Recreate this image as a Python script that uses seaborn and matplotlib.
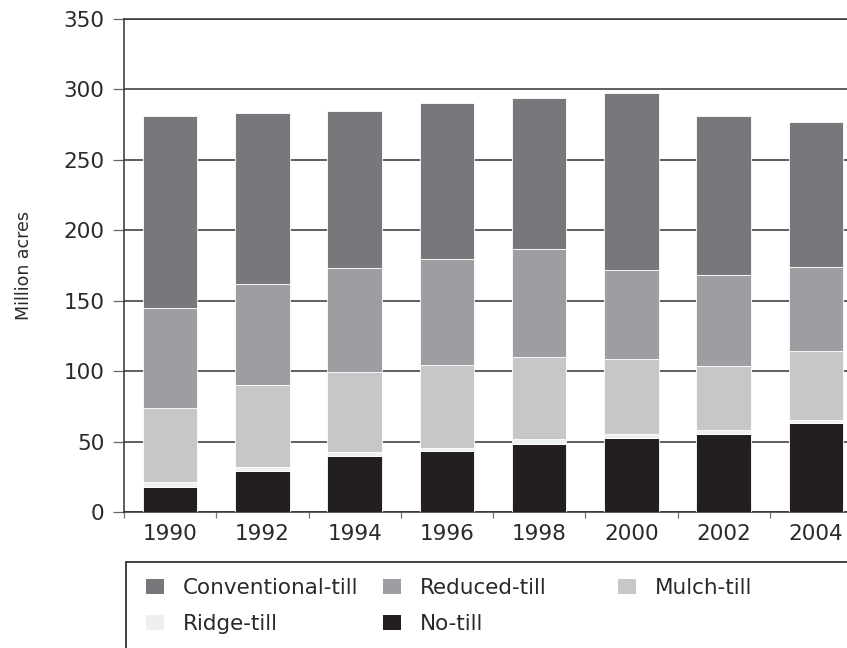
import numpy as np
import matplotlib
matplotlib.use("Agg")
import matplotlib.pyplot as plt
from matplotlib.patches import Patch, Rectangle
import seaborn as sns

years = ["1990", "1992", "1994", "1996", "1998", "2000", "2002", "2004"]

# stacked from the bottom up
no_till = [18, 29, 40, 43, 48, 52.5, 55.5, 63]
ridge_till = [3, 3, 2.5, 2.5, 4, 3, 3, 2]
mulch_till = [53, 58, 57, 59, 58, 53, 45.5, 49]
reduced_till = [71, 72, 74, 75, 77, 63, 64, 60]
conventional_till = [136, 121, 111, 111, 107, 126, 113, 103]

series_names = ["No-till", "Ridge-till", "Mulch-till", "Reduced-till", "Conventional-till"]
series_values = [no_till, ridge_till, mulch_till, reduced_till, conventional_till]
series_colors = ["#231f20", "#eeeff0", "#c6c7c9", "#9d9ea1", "#77787b"]

sns.set_style("white")
plt.rcParams['font.family'] = ['DejaVu Sans']

W, H = 847, 648
fig = plt.figure(figsize=(W / 100, H / 100), dpi=100)
# the right side of the axes runs past the edge of the picture, as in the reference
ax = fig.add_axes([124 / W, 1 - 512 / H, 738 / W, 493 / H])

bottom = np.zeros(len(years))
for name, vals, col in zip(series_names, series_values, series_colors):
    sns.barplot(x=years, y=vals, bottom=bottom, color=col, saturation=1,
                width=0.59, edgecolor="white", linewidth=0.6, errorbar=None,
                ax=ax, zorder=3)
    bottom = bottom + np.array(vals)

ax.set_xlim(-0.5, 7.5)
ax.set_ylim(0, 350)
ax.set_yticks(range(0, 351, 50))
ax.yaxis.grid(True, color="#333333", linewidth=1.1)
ax.set_axisbelow(True)

for side in ["left", "bottom", "top", "right"]:
    ax.spines[side].set_visible(True)
    ax.spines[side].set_color("#333333")
    ax.spines[side].set_linewidth(1.1)

ax.tick_params(axis="y", which="major", direction="out", length=8, width=0.9,
               color="#666666", labelsize=15.5, labelcolor="#2a2a2a", pad=6, left=True)
ax.tick_params(axis="x", which="major", length=0, labelsize=15.5,
               labelcolor="#2a2a2a", pad=9)
ax.set_xticks(np.arange(-0.5, 8.0, 1.0), minor=True)
ax.tick_params(axis="x", which="minor", direction="out", length=4.5, width=0.9,
               color="#777777", bottom=True)

ax.set_ylabel("Million acres", fontsize=12.5, color="#2a2a2a")
ax.yaxis.set_label_coords(-0.123, 0.5)
ax.set_xlabel("")

# legend, filled row by row in three columns
handles = {n: Patch(facecolor=c, edgecolor="none") for n, c in zip(series_names, series_colors)}
columns = [(146, ["Conventional-till", "Ridge-till"]),
           (383, ["Reduced-till", "No-till"]),
           (618, ["Mulch-till"])]
for x0, names in columns:
    fig.legend([handles[n] for n in names], names, loc="upper left",
               bbox_to_anchor=(x0 / W, 1 - 578 / H), frameon=False,
               fontsize=15.5, borderpad=0, borderaxespad=0,
               handlelength=0.84, handleheight=0.7, handletextpad=0.88,
               labelspacing=0.74, labelcolor="#2a2a2a")

fig.patches.append(Rectangle((126 / W, -0.1), 1.0, (648 - 562) / H + 0.1,
                             transform=fig.transFigure, fill=False,
                             edgecolor="#222222", linewidth=1.2))

fig.savefig("out.png", dpi=100)
